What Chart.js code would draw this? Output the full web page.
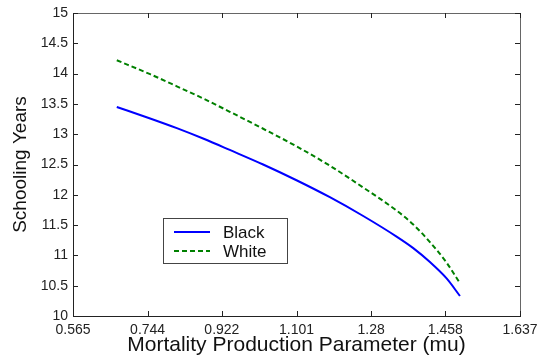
<!DOCTYPE html>
<html>
<head>
<meta charset="utf-8">
<script src="https://cdn.jsdelivr.net/npm/chart.js@4/dist/chart.umd.min.js"></script>
<style>
  html, body { margin: 0; padding: 0; background: #fff; }
  #wrap { width: 537px; height: 360px; }
</style>
</head>
<body>
<div id="wrap"><canvas id="chart_1"></canvas></div>
<script>
// mortality production parameter (mu) and schooling years per group
const mu = [0.67, 0.75, 0.814, 0.88, 0.941, 1.021, 1.101, 1.181, 1.261, 1.341, 1.381, 1.421, 1.461, 1.493];
const black_years = [13.45, 13.26, 13.10, 12.92, 12.74, 12.50, 12.24, 11.96, 11.65, 11.31, 11.12, 10.89, 10.62, 10.33];
const white_years = [14.22, 13.99, 13.79, 13.58, 13.37, 13.09, 12.80, 12.48, 12.12, 11.74, 11.51, 11.22, 10.88, 10.54];
const x_ticks = [0.565, 0.744, 0.922, 1.101, 1.28, 1.458, 1.637];
const y_ticks = [10, 10.5, 11, 11.5, 12, 12.5, 13, 13.5, 14, 14.5, 15];

const FONT = 'Liberation Sans, Arial, sans-serif';

const points = ys => mu.map((x, i) => ({ x: x, y: ys[i] }));

// box round the plot with ticks pointing inwards, and the legend inside it
const frame = {
    id: 'frame',
    afterDraw(chart) {
        const ctx = chart.ctx, a = chart.chartArea;
        const xs = chart.scales.x, ys = chart.scales.y;
        const len = 5;
        ctx.save();
        ctx.lineWidth = 1;
        ctx.strokeStyle = '#666';
        ctx.beginPath();
        ctx.moveTo(a.left, a.top + 0.5); ctx.lineTo(a.right + 0.5, a.top + 0.5);
        ctx.lineTo(a.right + 0.5, a.bottom);
        ctx.stroke();
        ctx.strokeStyle = '#222';
        ctx.beginPath();
        ctx.moveTo(a.left + 0.5, a.top); ctx.lineTo(a.left + 0.5, a.bottom + 0.5);
        ctx.lineTo(a.right + 1, a.bottom + 0.5);
        ctx.stroke();
        ctx.beginPath();
        x_ticks.forEach(v => {
            const px = Math.round(xs.getPixelForValue(v)) + 0.5;
            ctx.moveTo(px, a.bottom); ctx.lineTo(px, a.bottom - len);
            ctx.moveTo(px, a.top); ctx.lineTo(px, a.top + len);
        });
        y_ticks.forEach(v => {
            const py = Math.round(ys.getPixelForValue(v)) + 0.5;
            ctx.moveTo(a.left, py); ctx.lineTo(a.left + len, py);
            ctx.moveTo(a.right, py); ctx.lineTo(a.right - len, py);
        });
        ctx.stroke();

        // legend
        const lx = 163, ly = 218, lw = 124, lh = 45;
        ctx.fillStyle = '#fff';
        ctx.fillRect(lx, ly, lw, lh);
        ctx.strokeStyle = '#444';
        ctx.strokeRect(lx + 0.5, ly + 0.5, lw, lh);
        ctx.font = '17px ' + FONT;
        ctx.textBaseline = 'middle';
        chart.data.datasets.forEach((ds, i) => {
            const y = ly + 14 + i * 19;
            ctx.strokeStyle = ds.borderColor;
            ctx.lineWidth = 2;
            ctx.setLineDash(ds.borderDash || []);
            ctx.beginPath();
            ctx.moveTo(lx + 11, y); ctx.lineTo(lx + 47, y);
            ctx.stroke();
            ctx.setLineDash([]);
            ctx.fillStyle = '#111';
            ctx.fillText(ds.label, lx + 60, y + 1);
        });
        ctx.restore();
    }
};

new Chart(document.getElementById('chart_1').getContext('2d'), {
    type: 'line',
    data: {
        datasets: [
            {
                label: 'Black',
                data: points(black_years),
                borderColor: '#0000ff',
                borderWidth: 2,
                pointRadius: 0,
                cubicInterpolationMode: 'monotone'
            },
            {
                label: 'White',
                data: points(white_years),
                borderColor: '#008000',
                borderWidth: 2,
                borderDash: [5, 3],
                pointRadius: 0,
                cubicInterpolationMode: 'monotone'
            }
        ]
    },
    options: {
        responsive: true,
        maintainAspectRatio: false,
        animation: false,
        layout: { padding: { top: 13, right: 17, left: 0, bottom: 0 } },
        plugins: { legend: { display: false }, tooltip: { enabled: false } },
        scales: {
            x: {
                type: 'linear',
                min: 0.565,
                max: 1.637,
                afterBuildTicks: scale => { scale.ticks = x_ticks.map(v => ({ value: v })); },
                afterFit: scale => {
                    scale.height = 44;
                    scale.paddingLeft = 0;
                    scale.paddingRight = 0;
                },
                grid: { display: false, drawTicks: false },
                border: { display: false },
                ticks: {
                    padding: 6,
                    color: '#222',
                    font: { family: FONT, size: 14 },
                    callback: v => String(v)
                },
                title: {
                    display: true,
                    text: 'Mortality Production Parameter (mu)',
                    color: '#111',
                    font: { family: FONT, size: 21 },
                    padding: { top: 0, bottom: 2 }
                }
            },
            y: {
                min: 10,
                max: 15,
                afterBuildTicks: scale => { scale.ticks = y_ticks.map(v => ({ value: v })); },
                afterFit: scale => {
                    scale.width = 73;
                    scale.paddingTop = 0;
                    scale.paddingBottom = 0;
                },
                grid: { display: false, drawTicks: false },
                border: { display: false },
                ticks: {
                    padding: 5,
                    color: '#222',
                    font: { family: FONT, size: 14 },
                    callback: v => String(v)
                },
                title: {
                    display: true,
                    text: 'Schooling Years',
                    color: '#111',
                    font: { family: FONT, size: 19 },
                    padding: { top: 9, bottom: 0 }
                }
            }
        }
    },
    plugins: [frame]
});
</script>
</body>
</html>
